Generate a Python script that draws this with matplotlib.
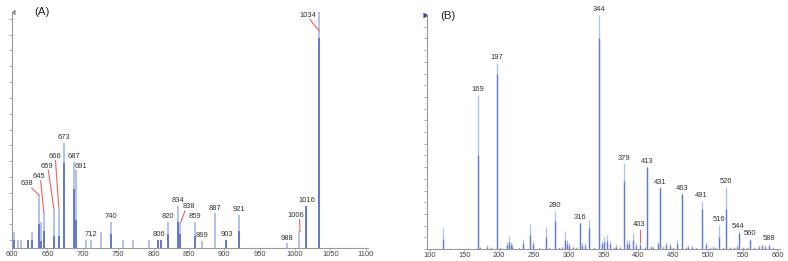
import matplotlib
matplotlib.use("Agg")
import matplotlib.pyplot as plt
from matplotlib.ticker import FixedLocator, MultipleLocator
import numpy as np

plt.rcParams['font.family'] = ['Liberation Sans', 'DejaVu Sans']

# ---------------- Panel A data ----------------
a_mz = [603, 609, 613, 623, 628, 638, 641, 645, 659, 666, 673, 687, 691, 704, 712,
        726, 740, 757, 771, 794, 806, 810, 820, 834, 838, 859, 869, 887, 903, 921,
        988, 1006, 1016, 1034]
a_light = [6.9, 3.4, 3.4, 3.4, 6.9, 22.5, 11.0, 14.8, 17.0, 17.5, 44.5, 36.4, 33.0, 3.4, 3.4,
           6.9, 11.0, 3.4, 3.4, 3.4, 3.4, 3.4, 11.0, 18.0, 11.0, 11.0, 3.0, 14.7, 3.4, 14.0,
           2.0, 7.0, 17.8, 100.0]
a_dark = [3.4, 0, 0, 3.4, 3.4, 10.0, 3.0, 7.0, 5.0, 5.0, 36.0, 25.0, 12.0, 0, 0,
          0, 6.0, 0, 0, 0, 3.4, 3.4, 6.0, 11.0, 6.0, 5.0, 0, 0, 3.4, 7.0,
          0, 0, 17.8, 89.0]
a_labels = [638, 645, 659, 666, 673, 687, 691, 712, 740, 806, 820, 834, 838, 859, 869,
            887, 903, 921, 988, 1006, 1016, 1034]
a_xticks = [600, 650, 700, 750, 800, 850, 900, 950, 1000, 1050, 1100]

# ---------------- Panel B data ----------------
b_mz = [120, 130, 142, 155, 169, 173, 183, 188, 197, 201, 211, 214, 217, 219, 228,
        235, 245, 248, 258, 267, 272, 280, 286, 290, 294, 297, 300, 306, 310, 316,
        319, 324, 329, 336, 344, 348, 351, 355, 360, 365, 368, 373, 379, 384, 386,
        392, 397, 403, 409, 413, 418, 421, 428, 431, 436, 440, 445, 450, 456, 463,
        468, 471, 477, 483, 491, 497, 503, 507, 510, 516, 521, 526, 532, 537, 542,
        544, 550, 556, 560, 566, 574, 578, 582, 588, 594]
b_light = [9.0, 0.4, 0.4, 0.4, 66.0, 0.8, 1.8, 0.8, 79.7, 1.0, 3.2, 5.6, 3.2, 2.0, 0.6,
           4.2, 10.8, 3.4, 0.6, 9.2, 1.0, 16.4, 1.0, 1.2, 7.8, 4.0, 2.4, 1.2, 1.0, 11.2,
           2.4, 2.4, 12.4, 1.0, 100.0, 3.4, 5.0, 6.0, 3.4, 1.0, 2.0, 1.2, 36.6, 4.0, 4.0,
           7.0, 2.4, 3.0, 1.0, 35.0, 1.4, 1.2, 3.4, 26.3, 1.2, 3.0, 2.4, 0.8, 4.0, 23.7,
           0.8, 1.6, 1.4, 0.6, 20.7, 3.0, 0.8, 1.2, 1.0, 10.3, 0.8, 26.7, 0.8, 0.8, 1.8,
           7.3, 0.8, 1.0, 4.3, 0.8, 1.6, 2.2, 1.6, 2.2, 1.0]
b_dark = [4.3, 0.2, 0.2, 0.2, 40.0, 0.4, 1.0, 0.4, 74.6, 0.5, 1.8, 3.0, 1.8, 1.0, 0.3,
          2.4, 6.0, 2.0, 0.3, 5.0, 0.5, 12.0, 0.5, 0.6, 4.0, 2.0, 1.2, 0.6, 0.5, 11.0,
          1.2, 1.2, 9.0, 0.5, 90.0, 2.0, 3.0, 3.4, 2.0, 0.5, 1.0, 0.6, 29.0, 2.0, 2.0,
          4.0, 1.2, 1.5, 0.5, 35.0, 0.7, 0.6, 2.0, 26.0, 0.6, 1.6, 1.2, 0.4, 2.2, 23.7,
          0.4, 0.8, 0.7, 0.3, 17.0, 1.6, 0.4, 0.6, 0.5, 5.0, 0.4, 17.0, 0.4, 0.4, 1.0,
          7.0, 0.4, 0.5, 4.0, 0.4, 0.8, 1.2, 0.8, 1.4, 0.5]
b_labels = [169, 197, 280, 316, 344, 379, 403, 413, 431, 463, 491, 516, 526, 544, 560, 588]
b_xticks = [100, 150, 200, 250, 300, 350, 400, 450, 500, 550, 600]

LIGHT = '#b3c1ec'
DARK = '#6079d2'
AXC = '#9a9a9a'
TXT = '#333333'
RED = '#f0605a'

fig = plt.figure(figsize=(7.88, 2.61), dpi=100)

def style_axes(ax, xticks, ystep, yoff):
    for s in ['top', 'right']:
        ax.spines[s].set_visible(False)
    for s in ['left', 'bottom']:
        ax.spines[s].set_color(AXC)
        ax.spines[s].set_linewidth(0.8)
    ax.set_xticks(xticks)
    ax.set_xticklabels([str(t) for t in xticks])
    ax.tick_params(axis='x', length=1.5, width=0.6, color=AXC, pad=1.0,
                   labelsize=5.4, labelcolor='#444444')
    ax.yaxis.set_major_locator(FixedLocator(np.arange(yoff, 100, ystep)))
    ax.tick_params(axis='y', length=2, width=0.6, color=AXC, labelleft=False)

# ---------------- Panel A ----------------
axA = fig.add_axes([12/788, 1-248/261, 356/788, 236/261])
axA.set_xlim(600, 1103)
axA.set_ylim(0, 100)
axA.vlines(a_mz, 0, a_light, color=LIGHT, linewidth=1.4)
axA.vlines(a_mz, 0, a_dark, color=DARK, linewidth=1.4)
style_axes(axA, a_xticks, 6.7, 3.3)

h_of_a = dict(zip(a_mz, a_light))
leaderA = {  # label: (text x, text y, line start x, line start y, line end x, line end y)
    638: (621, 27.5, 627.8, 25.4, 638, 22.5),
    645: (638.6, 30.5, 640.5, 28.5, 645, 14.8),
    659: (649.0, 34.7, 651.3, 33.0, 659, 17.0),
    666: (660.7, 38.6, 661.5, 37.0, 666, 17.5),
    838: (850, 17.4, 844.4, 15.7, 838.5, 11.0),
    1006: (1000.7, 13.6, 1006.3, 11.9, 1007, 7.0),
    1034: (1018, 98.4, 1020.9, 96.8, 1034, 92.0),
}
shiftA = {691: (697.5, 34.7), 806: (808, 5.6), 687: (687.6, 38.6)}
for m in a_labels:
    if m in leaderA:
        tx, ty, x0, y0, x1, y1 = leaderA[m]
        axA.plot([x0, x1], [y0, y1], color=RED, linewidth=0.8, clip_on=False)
        axA.text(tx, ty, str(m), ha='center', va='center', fontsize=5.4, color=TXT)
    elif m in shiftA:
        tx, ty = shiftA[m]
        axA.text(tx, ty, str(m), ha='center', va='center', fontsize=5.4, color=TXT)
    else:
        axA.annotate(str(m), (m, h_of_a[m]), xytext=(0, 1.2), textcoords='offset points',
                     ha='center', va='bottom', fontsize=5.4, color=TXT)
axA.text(22/356, 1.0, '(A)', transform=axA.transAxes, ha='left', va='center',
         fontsize=8.2, color='#222222')
axA.plot([600], [100], marker=4, markersize=3, color='#8a8a8a', clip_on=False)

# ---------------- Panel B ----------------
axB = fig.add_axes([427/788, 1-249/261, 353/788, 234/261])
axB.set_xlim(96.4, 603.6)
axB.set_ylim(0, 100)
axB.vlines(b_mz, 0, b_light, color=LIGHT, linewidth=0.95)
axB.vlines(b_mz, 0, b_dark, color=DARK, linewidth=0.95)
style_axes(axB, b_xticks, 5.0, 0.0)
axB.yaxis.set_minor_locator(MultipleLocator(2.5))
axB.tick_params(axis='y', which='minor', length=1, width=0.5, color=AXC)

h_of_b = dict(zip(b_mz, b_light))
for m in b_labels:
    if m == 403:
        axB.plot([403, 403], [8.3, 3.2], color=RED, linewidth=0.8)
        axB.text(401.4, 10.4, '403', ha='center', va='center', fontsize=5.4, color=TXT)
    else:
        axB.annotate(str(m), (m, h_of_b[m]), xytext=(0, 1.2), textcoords='offset points',
                     ha='center', va='bottom', fontsize=5.4, color=TXT)
axB.text(13/353, 0.995, '(B)', transform=axB.transAxes, ha='left', va='center',
         fontsize=8.2, color='#222222')
axB.plot([96.4], [100], marker=5, markersize=3.5, color='#3048b0', clip_on=False)

fig.savefig('out.png', dpi=100)
